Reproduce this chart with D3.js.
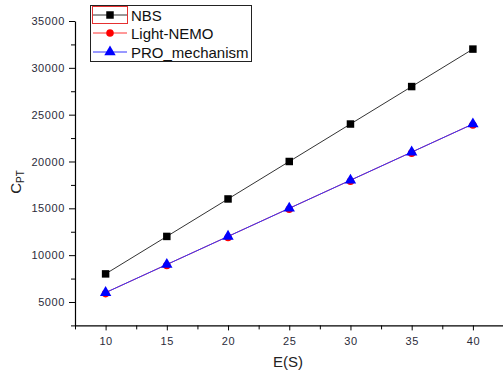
<!DOCTYPE html>
<html>
<head>
<meta charset="utf-8">
<script src="https://cdn.jsdelivr.net/npm/d3@7"></script>
<style>
  html, body { margin: 0; padding: 0; background: #fff; }
  svg { display: block; }
  text { font-family: Arial, 'Liberation Sans', sans-serif; }
</style>
</head>
<body>
<div id="chart"></div>
<script>
// Données
const xValues   = [10, 15, 20, 25, 30, 35, 40];
const nbs       = [8000, 12000, 16000, 20000, 24000, 28000, 32000];
const lightNemo = [6000, 9000, 12000, 15000, 18000, 21000, 24000];
const proMech   = [6000, 9000, 12000, 15000, 18000, 21000, 24000];
const xTicks    = [10, 15, 20, 25, 30, 35, 40];
const yTicks    = [5000, 10000, 15000, 20000, 25000, 30000, 35000];
const seriesNames = ['NBS', 'Light-NEMO', 'PRO_mechanism'];

const W = 503, H = 375;
const x = d3.scaleLinear().domain([7.5, 42.5]).range([75, 503.5]);
const y = d3.scaleLinear().domain([2500, 35000]).range([325.4, 21]);

const svg = d3.select('#chart').append('svg').attr('width', W).attr('height', H);

const tickStyle = gg => gg.selectAll('text')
  .style('fill', '#2b2b3a')
  .style('font-size', '11px')
  .style('letter-spacing', '0.6px')
  .style('font-family', 'Arial, Liberation Sans, sans-serif');

// Axe X
const xMinor = d3.range(7.5, 42.6, 2.5).filter(v => v % 5 !== 0);
svg.append('g')
  .attr('transform', `translate(0,${y.range()[0]})`)
  .call(d3.axisBottom(x).tickValues(xMinor).tickSize(4).tickFormat(''))
  .call(gg => gg.select('.domain').remove());
svg.append('g')
  .attr('transform', `translate(0,${y.range()[0]})`)
  .call(d3.axisBottom(x).tickValues(xTicks).tickSize(5).tickPadding(7).tickSizeOuter(0).tickFormat(d3.format('d')))
  .call(tickStyle)
  .call(gg => gg.select('.domain').attr('stroke-width', 1.2));

// Axe Y
const yMinor = d3.range(2500, 35001, 2500).filter(v => v % 5000 !== 0);
svg.append('g')
  .attr('transform', `translate(${x.range()[0]},0)`)
  .call(d3.axisLeft(y).tickValues(yMinor).tickSize(4).tickFormat(''))
  .call(gg => gg.select('.domain').remove());
svg.append('g')
  .attr('transform', `translate(${x.range()[0]},0)`)
  .call(d3.axisLeft(y).tickValues(yTicks).tickSize(6).tickPadding(4).tickSizeOuter(0).tickFormat(d3.format('d')))
  .call(tickStyle)
  .call(gg => gg.select('.domain').attr('stroke-width', 1.2));

// Titres d'axes
svg.append('text')
  .attr('x', 288).attr('y', 367)
  .attr('text-anchor', 'middle')
  .style('font-size', '15px').style('fill', '#222')
  .text('E(S)');

const yl = svg.append('text')
  .attr('transform', 'translate(21,182) rotate(-90)')
  .attr('text-anchor', 'middle')
  .style('font-size', '15px').style('fill', '#222');
yl.append('tspan').text('C');
yl.append('tspan').attr('dy', 3).style('font-size', '10px').text('PT');

// Courbes
const line = vals => d3.line().x((d, i) => x(xValues[i])).y(d => y(d))(vals);

svg.append('path').attr('d', line(nbs)).attr('fill', 'none').attr('stroke', '#333').attr('stroke-width', 1);
svg.append('path').attr('d', line(lightNemo)).attr('fill', 'none').attr('stroke', '#ff3333').attr('stroke-width', 1);
svg.append('path').attr('d', line(proMech)).attr('fill', 'none').attr('stroke', '#3333ff').attr('stroke-width', 1);

const sq = d3.symbol().type(d3.symbolSquare).size(56);
const ci = d3.symbol().type(d3.symbolCircle).size(45);
const tr = d3.symbol().type(d3.symbolTriangle).size(56);

svg.selectAll('.m-nbs').data(nbs).join('path')
  .attr('transform', (d, i) => `translate(${x(xValues[i])},${y(d)})`)
  .attr('d', sq).attr('fill', '#000');
svg.selectAll('.m-ln').data(lightNemo).join('path')
  .attr('transform', (d, i) => `translate(${x(xValues[i])},${y(d) + 1})`)
  .attr('d', ci).attr('fill', '#ff0000');
svg.selectAll('.m-pro').data(proMech).join('path')
  .attr('transform', (d, i) => `translate(${x(xValues[i])},${y(d)})`)
  .attr('d', tr).attr('fill', '#0000ff');

// Légende
const lg = svg.append('g');
lg.append('rect').attr('x', 90.5).attr('y', 5.5).attr('width', 161).attr('height', 56)
  .attr('fill', '#fff').attr('stroke', '#222').attr('stroke-width', 1);
lg.append('rect').attr('x', 92.5).attr('y', 6.5).attr('width', 35).attr('height', 17)
  .attr('fill', 'none').attr('stroke', '#e53030').attr('stroke-width', 1);
const rowsY = [15, 33, 52];
const colors = ['#333', '#ff3333', '#3333ff'];
const syms = [sq, ci, tr];
const fills = ['#000', '#ff0000', '#0000ff'];
seriesNames.forEach((name, i) => {
  lg.append('line').attr('x1', 93).attr('x2', 127).attr('y1', rowsY[i]).attr('y2', rowsY[i])
    .attr('stroke', colors[i]).attr('stroke-width', 1);
  lg.append('path').attr('transform', `translate(110,${rowsY[i]})`).attr('d', syms[i]).attr('fill', fills[i]);
  lg.append('text').attr('x', 131).attr('y', rowsY[i] + 5.5)
    .style('font-size', '15px').style('fill', '#111').text(name);
});
</script>
</body>
</html>
